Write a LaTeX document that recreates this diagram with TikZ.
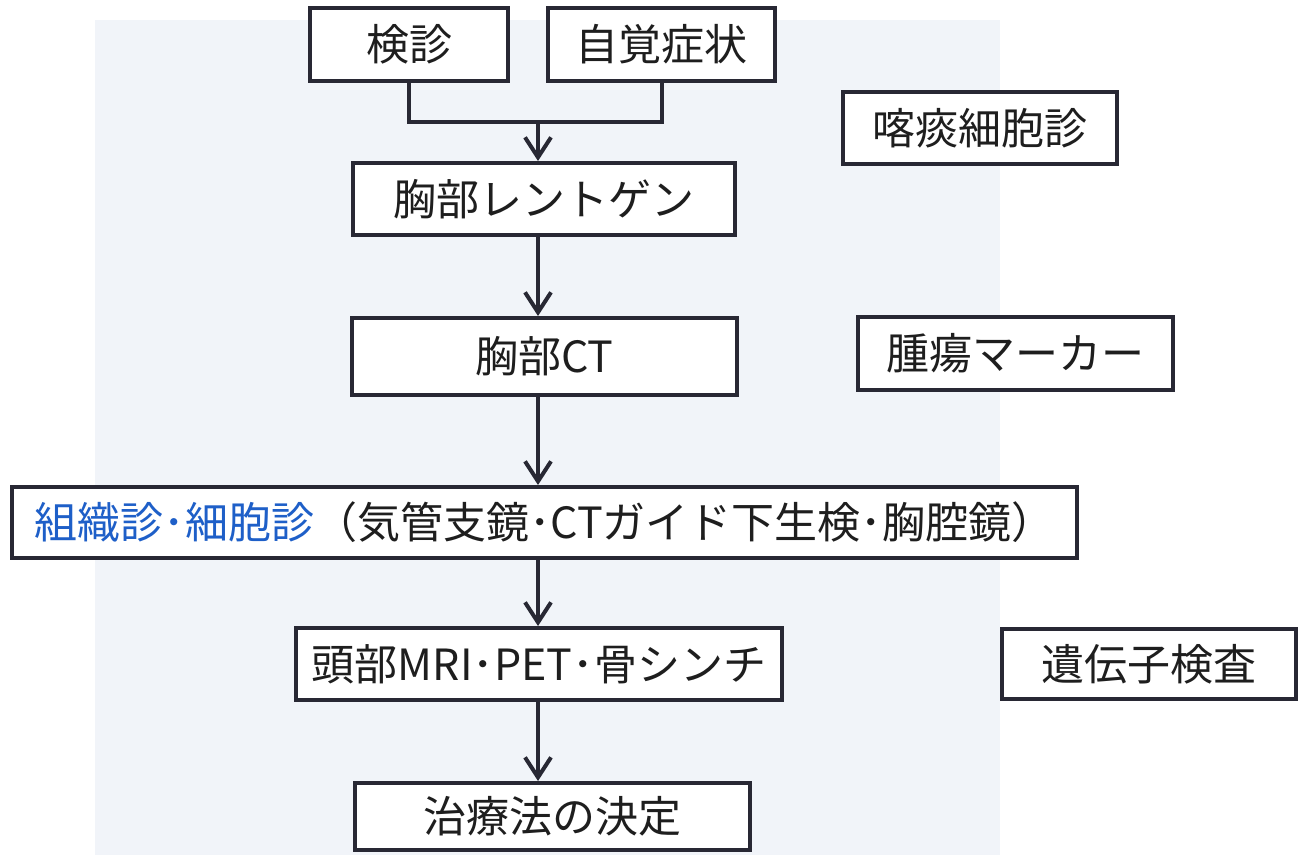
\documentclass[tikz,border=0pt]{standalone}
\usepackage{fontspec}
\setmainfont{Noto Sans CJK JP}
\usetikzlibrary{arrows.meta}
\definecolor{ink}{RGB}{40,40,52}
\definecolor{txt}{RGB}{30,30,30}
\definecolor{bluetxt}{RGB}{30,95,200}
\definecolor{tint}{RGB}{241,244,249}
\tikzset{
  boxnode/.style={draw=ink, line width=2pt, fill=white, inner sep=0pt, text=txt, font=\fontsize{21.5pt}{25pt}\selectfont},
  conn/.style={draw=ink, line width=2pt},
  arr/.style={conn, -{Straight Barb[length=10pt,width=13pt,line width=2pt]}}
}
\begin{document}
\begin{tikzpicture}[x=0.5pt,y=-0.5pt]
\useasboundingbox (0,0) rectangle (1299,855);
\fill[tint] (95,20) rectangle (1000,855);
\node[boxnode, minimum width=99pt, minimum height=36.5pt] (kenshin) at (409,44.5) {検診};
\node[boxnode, minimum width=113.5pt, minimum height=36.5pt] (jikaku) at (661.5,44.5) {自覚症状};
\node[boxnode, minimum width=191pt, minimum height=36pt] (xray) at (544,199) {胸部レントゲン};
\node[boxnode, minimum width=137pt, minimum height=36pt] (sputum) at (980,128) {喀痰細胞診};
\node[boxnode, minimum width=192.5pt, minimum height=38.5pt] (ct) at (544.5,356.5) {胸部CT};
\node[boxnode, minimum width=157.5pt, minimum height=36.5pt] (marker) at (1015.5,353.5) {腫瘍マーカー};
\node[boxnode, minimum width=532.5pt, minimum height=35.5pt] (biopsy) at (544.5,522.5) {\textcolor{bluetxt}{組織診･細胞診}（気管支鏡･CTガイド下生検･胸腔鏡）};
\node[boxnode, minimum width=243pt, minimum height=36pt] (mri) at (539,664) {頭部MRI･PET･骨シンチ};
\node[boxnode, minimum width=147pt, minimum height=35pt] (gene) at (1149,664) {遺伝子検査};
\node[boxnode, minimum width=197.5pt, minimum height=33.5pt] (treat) at (552.5,816.5) {治療法の決定};
\coordinate (j) at (538,122);
\draw[conn] (kenshin.south) |- (j) -| (jikaku.south);
\draw[arr] (j) -- (xray.north -| j);
\draw[arr] (xray.south -| j) -- (ct.north -| j);
\draw[arr] (ct.south -| j) -- (biopsy.north -| j);
\draw[arr] (biopsy.south -| j) -- (mri.north -| j);
\draw[arr] (mri.south -| j) -- (treat.north -| j);
\end{tikzpicture}
\end{document}
